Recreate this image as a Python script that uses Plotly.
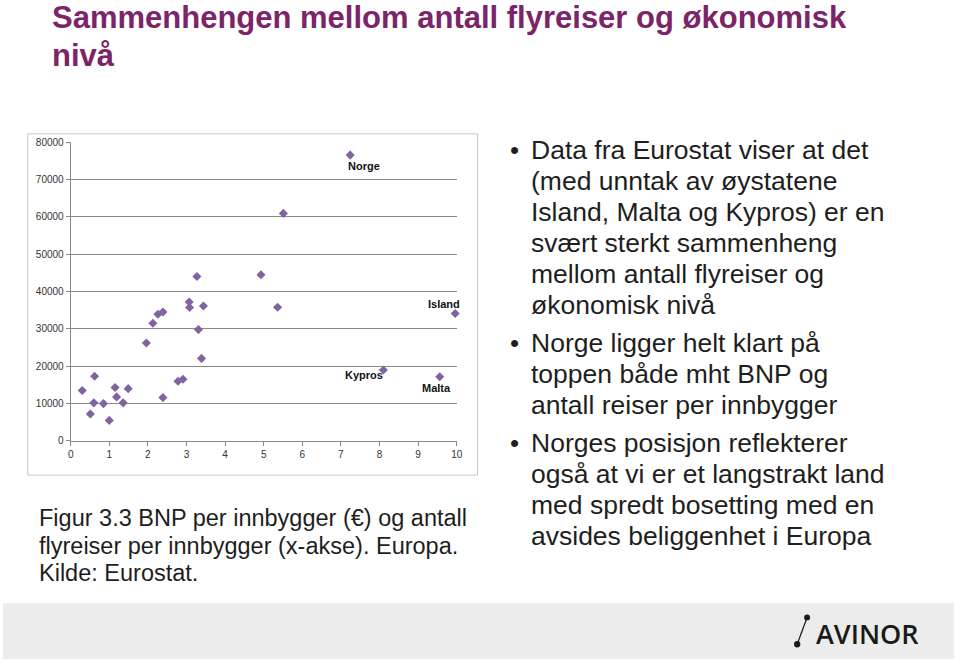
import plotly.graph_objects as go

W, H = 960, 664

# Data: x = flyreiser per innbygger, y = BNP per innbygger (EUR)
flights = [0.30, 0.51, 0.62, 0.60, 0.85, 1.00, 1.15, 1.19, 1.36, 1.49,
           1.96, 2.13, 2.26, 2.39, 2.39, 2.78, 2.91, 3.07, 3.08, 3.27,
           3.44, 3.31, 3.39, 4.93, 5.36, 5.51]
gdp = [13500, 7200, 17300, 10200, 10000, 5500, 14300, 11800, 10200, 14000,
       26200, 31500, 33900, 34500, 11600, 16000, 16500, 37200, 35700, 44000,
       36100, 29800, 22100, 44500, 35800, 60900]

labeled_names = ["Norge", "Island", "Kypros", "Malta"]
labeled_flights = [7.24, 9.96, 8.10, 9.56]
labeled_gdp = [76500, 34100, 19000, 17200]
# label offsets in pixels (style only)
label_dx = [14, -11, -19, -3]
label_dy = [-11, 10, -5, -11]

x_ticks = list(range(0, 11))
y_ticks = list(range(0, 80001, 10000))
y_tick_labels = [str(v) for v in y_ticks]

title_lines = ["Sammenhengen mellom antall flyreiser og økonomisk", "nivå"]
bullets = [
    ["Data fra Eurostat viser at det", "(med unntak av øystatene",
     "Island, Malta og Kypros) er en", "svært sterkt sammenheng",
     "mellom antall flyreiser og", "økonomisk nivå"],
    ["Norge ligger helt klart på", "toppen både mht BNP og",
     "antall reiser per innbygger"],
    ["Norges posisjon reflekterer", "også at vi er et langstrakt land",
     "med spredt bosetting med en", "avsides beliggenhet i Europa"],
]
caption_lines = ["Figur 3.3 BNP per innbygger (€) og antall",
                 "flyreiser per innbygger (x-akse). Europa.",
                 "Kilde: Eurostat."]

def px(x):
    return x / W

def py(y):
    return 1 - y / H

MARK = "#8064A2"
GRID = "#8a8a8a"
TXT = "#1e1e1e"

fig = go.Figure()
fig.add_trace(go.Scatter(
    x=flights + labeled_flights, y=gdp + labeled_gdp, mode="markers",
    marker=dict(symbol="diamond", size=7, color=MARK, line=dict(width=0)),
    hoverinfo="x+y", showlegend=False, cliponaxis=False))

shapes = [
    # chart frame
    dict(type="rect", xref="paper", yref="paper", x0=px(25), x1=px(479),
         y0=py(477), y1=py(130), line=dict(color="#c6c6c6", width=1),
         fillcolor="rgba(0,0,0,0)", layer="below"),
    # footer band
    dict(type="rect", xref="paper", yref="paper", x0=0, x1=1,
         y0=0, y1=py(607), line=dict(width=0), fillcolor="#ececec",
         layer="below"),
    # logo icon: slanted line with two dots
    dict(type="line", xref="paper", yref="paper", x0=px(801.7), y0=py(649),
         x1=px(811.7), y1=py(621.7), line=dict(color="#222222", width=1.3)),
    dict(type="circle", xref="paper", yref="paper", x0=px(798.5), x1=px(804.9),
         y0=py(652.2), y1=py(645.8), fillcolor="#1a1a1a", line=dict(width=0)),
    dict(type="circle", xref="paper", yref="paper", x0=px(808.7), x1=px(814.7),
         y0=py(624.7), y1=py(618.7), fillcolor="#1a1a1a", line=dict(width=0)),
]

annotations = []
# point labels
for name, xv, yv, dx, dy in zip(labeled_names, labeled_flights, labeled_gdp,
                                label_dx, label_dy):
    annotations.append(dict(
        text=name, x=xv, y=yv, xref="x", yref="y", xshift=dx, yshift=dy,
        showarrow=False, xanchor="center", yanchor="middle",
        font=dict(family="Liberation Sans", size=11, color="#111111",
                  weight="bold")))
# title
for i, line in enumerate(title_lines):
    annotations.append(dict(
        text=line, xref="paper", yref="paper", x=px(47), y=py(12 + i * 38),
        xanchor="left", yanchor="middle", showarrow=False,
        font=dict(family="Liberation Sans", size=31, color="#7b2468",
                  weight="bold")))
# bullets
yline = 146
for bi, lines in enumerate(bullets):
    if bi > 0:
        yline += 6.3
    annotations.append(dict(
        text="•", xref="paper", yref="paper", x=px(510), y=py(yline),
        xanchor="left", yanchor="middle", showarrow=False,
        font=dict(family="Liberation Sans", size=26, color=TXT)))
    for line in lines:
        annotations.append(dict(
            text=line, xref="paper", yref="paper", x=px(531), y=py(yline),
            xanchor="left", yanchor="middle", showarrow=False,
            font=dict(family="Liberation Sans", size=26.5, color=TXT)))
        yline += 31.7
# caption
for i, line in enumerate(caption_lines):
    annotations.append(dict(
        text=line, xref="paper", yref="paper", x=px(34), y=py(521 + i * 28),
        xanchor="left", yanchor="middle", showarrow=False,
        font=dict(family="Liberation Sans", size=23.5, color=TXT)))
# logo text
annotations.append(dict(
    text="AVINOR", xref="paper", yref="paper", x=px(819), y=py(638.5),
    xanchor="left", yanchor="middle", showarrow=False,
    font=dict(family="Open Sans", size=27, color="#1a1a1a", weight=600)))

fig.update_layout(
    width=W, height=H, margin=dict(l=0, r=0, t=0, b=0),
    paper_bgcolor="white", plot_bgcolor="white",
    shapes=shapes, annotations=annotations,
    xaxis=dict(domain=[px(68.3), px(458)], range=[0, 10],
               tickvals=x_ticks, ticks="outside", ticklen=4,
               tickcolor=GRID, showline=True, linecolor=GRID,
               showgrid=False, zeroline=False,
               tickfont=dict(family="Liberation Sans", size=10, color="#333333")),
    yaxis=dict(domain=[py(442.3), py(138.3)], range=[0, 80000],
               tickvals=y_ticks, ticktext=y_tick_labels,
               ticks="outside", ticklen=4,
               tickcolor=GRID, showline=True, linecolor=GRID,
               showgrid=True, gridcolor=GRID, gridwidth=1.2, zeroline=False,
               tickfont=dict(family="Liberation Sans", size=10, color="#333333")),
)

fig.write_html("out.html", config=dict(displayModeBar=False),
               post_script="document.body.style.margin='0';")
